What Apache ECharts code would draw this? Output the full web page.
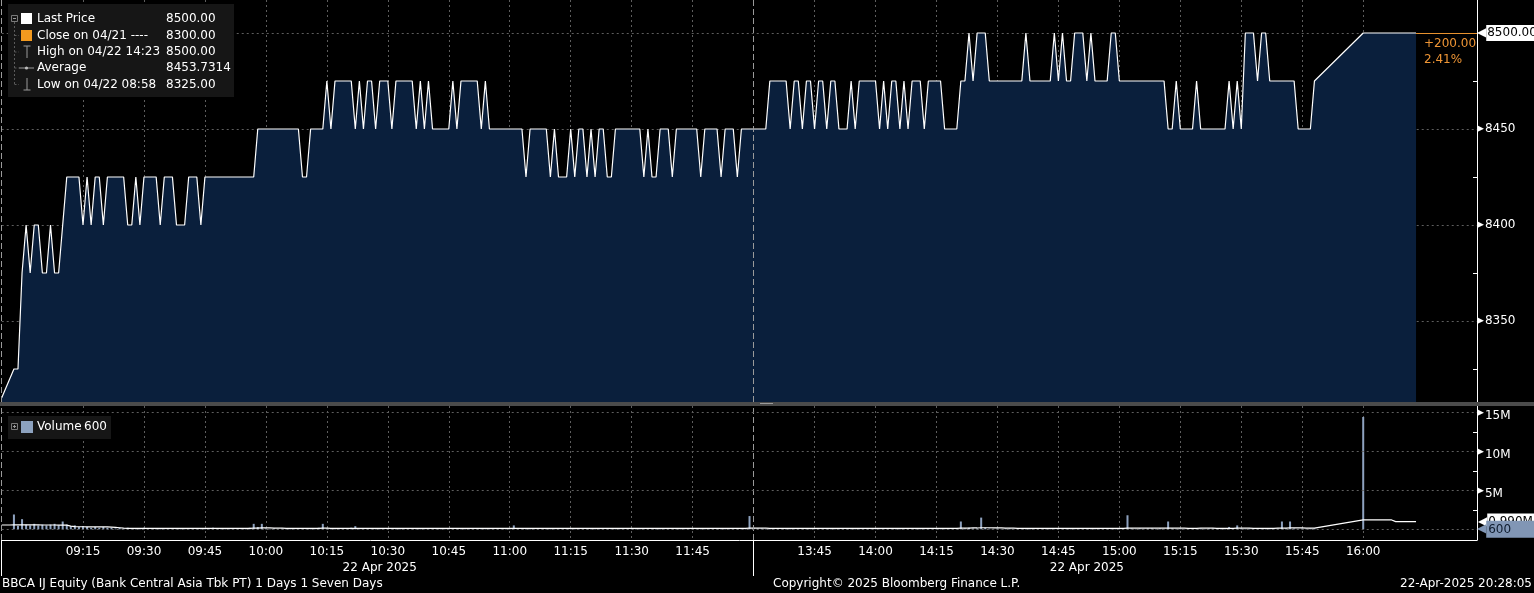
<!DOCTYPE html>
<html><head><meta charset="utf-8">
<script src="https://cdn.jsdelivr.net/npm/echarts@6/dist/echarts.min.js"></script>
<style>html,body{margin:0;padding:0;background:#000;overflow:hidden}#c{width:1534px;height:593px}</style>
</head><body><div id="c"></div>
<script>
// ---------- data ----------
const SESSIONS = [['08:55', 185], ['13:30', 179]];
const TICK_LABELS = ['09:15','09:30','09:45','10:00','10:15','10:30','10:45','11:00','11:15','11:30','11:45',
  '13:45','14:00','14:15','14:30','14:45','15:00','15:15','15:30','15:45','16:00'];
const DATE_LABEL_AT = ['10:28', '14:52'];
const DATE_TEXT = '22 Apr 2025';
const SESSION_BREAKS = ['08:55', '13:30'];
const LAST_PRICE = 8500;
const PREV_CLOSE = 8300;
const PRICE_LABELS = [8350, 8400, 8450, 8500];
const PRICE_MINOR = [8325, 8375, 8425, 8475];
const VOL_LABELS = [0, 5, 10, 15];
const VOL_MINOR = [2.5, 7.5, 12.5];
const LAST_VOLUME = 600;

const PRICE = [
  /*   0 */ 8310, null, null, 8325, 8325, 8375, 8400, 8375, 8400, 8400,
  /*  10 */ 8375, 8375, 8400, 8375, 8375, 8400, 8425, 8425, 8425, 8425,
  /*  20 */ 8400, 8425, 8400, 8425, 8425, 8400, 8425, 8425, 8425, 8425,
  /*  30 */ 8425, 8400, 8400, 8425, 8400, 8425, 8425, 8425, 8425, 8400,
  /*  40 */ 8425, 8425, 8425, 8400, 8400, 8400, 8425, 8425, 8425, 8400,
  /*  50 */ 8425, 8425, 8425, 8425, 8425, 8425, 8425, 8425, 8425, 8425,
  /*  60 */ 8425, 8425, 8425, 8450, 8450, 8450, 8450, 8450, 8450, 8450,
  /*  70 */ 8450, 8450, 8450, 8450, 8425, 8425, 8450, 8450, 8450, 8450,
  /*  80 */ 8475, 8450, 8475, 8475, 8475, 8475, 8475, 8450, 8475, 8450,
  /*  90 */ 8475, 8475, 8450, 8475, 8475, 8475, 8450, 8475, 8475, 8475,
  /* 100 */ 8475, 8475, 8450, 8475, 8450, 8475, 8450, 8450, 8450, 8450,
  /* 110 */ 8450, 8475, 8450, 8475, 8475, 8475, 8475, 8475, 8450, 8475,
  /* 120 */ 8450, 8450, 8450, 8450, 8450, 8450, 8450, 8450, 8450, 8425,
  /* 130 */ 8450, 8450, 8450, 8450, 8450, 8425, 8450, 8425, 8425, 8425,
  /* 140 */ 8450, 8425, 8450, 8450, 8425, 8450, 8425, 8450, 8450, 8425,
  /* 150 */ 8425, 8450, 8450, 8450, 8450, 8450, 8450, 8450, 8425, 8450,
  /* 160 */ 8425, 8425, 8450, 8450, 8450, 8425, 8450, 8450, 8450, 8450,
  /* 170 */ 8450, 8450, 8425, 8450, 8450, 8450, 8450, 8425, 8450, 8450,
  /* 180 */ 8450, 8425, 8450, 8450, 8450,
  /* 185 afternoon 13:30 */    8450, 8450, 8450, 8450, 8475,
  /* 190 */ 8475, 8475, 8475, 8475, 8450, 8475, 8475, 8450, 8475, 8475,
  /* 200 */ 8450, 8475, 8475, 8450, 8475, 8475, 8450, 8450, 8450, 8475,
  /* 210 */ 8450, 8475, 8475, 8475, 8475, 8475, 8450, 8475, 8450, 8475,
  /* 220 */ 8475, 8450, 8475, 8450, 8475, 8475, 8475, 8450, 8475, 8475,
  /* 230 */ 8475, 8475, 8450, 8450, 8450, 8450, 8475, 8475, 8500, 8475,
  /* 240 */ 8500, 8500, 8500, 8475, 8475, 8475, 8475, 8475, 8475, 8475,
  /* 250 */ 8475, 8475, 8500, 8475, 8475, 8475, 8475, 8475, 8475, 8500,
  /* 260 */ 8475, 8500, 8475, 8475, 8500, 8500, 8500, 8475, 8500, 8475,
  /* 270 */ 8475, 8475, 8475, 8500, 8500, 8475, 8475, 8475, 8475, 8475,
  /* 280 */ 8475, 8475, 8475, 8475, 8475, 8475, 8475, 8450, 8450, 8475,
  /* 290 */ 8450, 8450, 8450, 8450, 8475, 8450, 8450, 8450, 8450, 8450,
  /* 300 */ 8450, 8450, 8475, 8450, 8475, 8450, 8500, 8500, 8500, 8475,
  /* 310 */ 8500, 8500, 8475, 8475, 8475, 8475, 8475, 8475, 8475, 8450,
  /* 320 */ 8450, 8450, 8450, 8475, null, null, null, null, null, null,
  /* 330 */ null, null, null, null, null, 8500, 8500, 8500, 8500, 8500,
  /* 340 */ 8500, 8500, 8500, 8500, 8500, 8500, 8500, 8500, 8500
];

// volume in millions of shares
const VOLUME = [
  /*   0 */ 0, 0, 0, 1.9, 0.45, 1.3, 0.6, 0.5, 0.7, 0.5,
  /*  10 */ 0.6, 0.5, 0.6, 0.7, 0.5, 1.0, 0.6, 0.4, 0.5, 0.3,
  /*  20 */ 0.4, 0.3, 0.2, 0.3, 0.2, 0.3, 0.2, 0.2, 0.1, 0.2,
  /*  30 */ 0.1, 0.2, 0.1, 0.1, 0.1, 0.2, 0.1, 0.1, 0.1, 0.1,
  /*  40 */ 0.1, 0.05, 0.1, 0.1, 0.05, 0.1, 0.1, 0.05, 0.1, 0.1,
  /*  50 */ 0.05, 0.1, 0.2, 0.05, 0.1, 0.05, 0.1, 0.05, 0.1, 0.1,
  /*  60 */ 0.1, 0.2, 0.7, 0.3, 0.7, 0.1, 0.05, 0.1, 0.05, 0.1,
  /*  70 */ 0.05, 0.1, 0.05, 0.1, 0.1, 0.05, 0.1, 0.1, 0.2, 0.7,
  /*  80 */ 0.1, 0.05, 0.1, 0.05, 0.1, 0.1, 0.2, 0.4, 0.1, 0.05,
  /*  90 */ 0.1, 0.05, 0.1, 0.1, 0.05, 0.1, 0.05, 0.1, 0.1, 0.05,
  /* 100 */ 0.1, 0.05, 0.1, 0.1, 0.05, 0.1, 0.05, 0.1, 0.1, 0.05,
  /* 110 */ 0.1, 0.05, 0.1, 0.1, 0.05, 0.1, 0.05, 0.1, 0.1, 0.05,
  /* 120 */ 0.1, 0.05, 0.1, 0.1, 0.05, 0.1, 0.5, 0.1, 0.1, 0.05,
  /* 130 */ 0.1, 0.05, 0.1, 0.1, 0.05, 0.1, 0.05, 0.1, 0.1, 0.05,
  /* 140 */ 0.1, 0.05, 0.1, 0.1, 0.05, 0.1, 0.05, 0.1, 0.1, 0.05,
  /* 150 */ 0.1, 0.05, 0.1, 0.1, 0.05, 0.1, 0.05, 0.1, 0.1, 0.05,
  /* 160 */ 0.1, 0.05, 0.1, 0.1, 0.05, 0.1, 0.05, 0.1, 0.1, 0.05,
  /* 170 */ 0.1, 0.05, 0.1, 0.1, 0.05, 0.1, 0.05, 0.1, 0.1, 0.05,
  /* 180 */ 0.1, 0.05, 0.1, 0.1, 1.7,
  /* 185 */                       0.2, 0.1, 0.1, 0.05, 0.1,
  /* 190 */ 0.05, 0.1, 0.1, 0.05, 0.1, 0.05, 0.1, 0.1, 0.05, 0.1,
  /* 200 */ 0.05, 0.1, 0.1, 0.05, 0.1, 0.05, 0.1, 0.1, 0.05, 0.1,
  /* 210 */ 0.05, 0.1, 0.1, 0.05, 0.1, 0.05, 0.1, 0.1, 0.05, 0.1,
  /* 220 */ 0.05, 0.1, 0.1, 0.05, 0.1, 0.05, 0.1, 0.1, 0.05, 0.1,
  /* 230 */ 0.05, 0.1, 0.1, 0.05, 0.1, 0.05, 1.0, 0.1, 0.2, 0.1,
  /* 240 */ 0.1, 1.5, 0.2, 0.1, 0.05, 0.1, 0.05, 0.1, 0.1, 0.05,
  /* 250 */ 0.1, 0.05, 0.1, 0.1, 0.05, 0.1, 0.05, 0.1, 0.1, 0.05,
  /* 260 */ 0.1, 0.05, 0.1, 0.1, 0.05, 0.1, 0.05, 0.1, 0.1, 0.05,
  /* 270 */ 0.1, 0.05, 0.1, 0.1, 0.05, 0.1, 0.05, 1.8, 0.1, 0.05,
  /* 280 */ 0.1, 0.05, 0.1, 0.1, 0.05, 0.1, 0.05, 1.0, 0.1, 0.05,
  /* 290 */ 0.1, 0.05, 0.1, 0.1, 0.05, 0.1, 0.05, 0.1, 0.1, 0.05,
  /* 300 */ 0.1, 0.05, 0.3, 0.1, 0.5, 0.1, 0.05, 0.1, 0.1, 0.05,
  /* 310 */ 0.1, 0.05, 0.1, 0.1, 0.1, 1.0, 0.1, 1.0, 0.1, 0.05,
  /* 320 */ 0.1, 0.05, 0.1, 0.1, null, null, null, null, null, null,
  /* 330 */ null, null, null, null, null, 14.4, 0, 0, 0, 0,
  /* 340 */ 0, 0, 0, 0, 0, 0, 0, 0, 0
];

// white volume average line, millions
const VOL_AVG = [
  /*   0 */ 0.55, 0.55, 0.55, 0.56, 0.56, 0.57, 0.57, 0.56, 0.56, 0.56,
  /*  10 */ 0.55, 0.55, 0.55, 0.55, 0.54, 0.54, 0.53, 0.4, 0.35, 0.33,
  /*  20 */ 0.33, 0.32, 0.32, 0.31, 0.31, 0.3, 0.3, 0.28, 0.25, 0.2,
  /*  30 */ 0.15, 0.13, 0.12, 0.12, 0.12, 0.12, 0.12, 0.12, 0.12, 0.12,
  /*  40 */ 0.12, 0.12, 0.12, 0.12, 0.12, 0.12, 0.12, 0.12, 0.12, 0.12,
  /*  50 */ 0.12, 0.12, 0.12, 0.12, 0.12, 0.12, 0.12, 0.12, 0.12, 0.12,
  /*  60 */ 0.12, 0.13, 0.15, 0.16, 0.18, 0.18, 0.17, 0.16, 0.15, 0.14,
  /*  70 */ 0.13, 0.12, 0.12, 0.12, 0.12, 0.12, 0.12, 0.12, 0.12, 0.14,
  /*  80 */ 0.14, 0.13, 0.13, 0.12, 0.12, 0.12, 0.12, 0.13, 0.13, 0.12,
  /*  90 */ 0.12, 0.12, 0.12, 0.12, 0.12, 0.12, 0.12, 0.12, 0.12, 0.12,
  /* 100 */ 0.12, 0.12, 0.12, 0.12, 0.12, 0.12, 0.12, 0.12, 0.12, 0.12,
  /* 110 */ 0.12, 0.12, 0.12, 0.12, 0.12, 0.12, 0.12, 0.12, 0.12, 0.12,
  /* 120 */ 0.12, 0.12, 0.12, 0.12, 0.12, 0.12, 0.13, 0.13, 0.13, 0.13,
  /* 130 */ 0.12, 0.12, 0.12, 0.12, 0.12, 0.12, 0.12, 0.12, 0.12, 0.12,
  /* 140 */ 0.12, 0.12, 0.12, 0.12, 0.12, 0.12, 0.12, 0.12, 0.12, 0.12,
  /* 150 */ 0.12, 0.12, 0.12, 0.12, 0.12, 0.12, 0.12, 0.12, 0.12, 0.12,
  /* 160 */ 0.12, 0.12, 0.12, 0.12, 0.12, 0.12, 0.12, 0.12, 0.12, 0.12,
  /* 170 */ 0.12, 0.12, 0.12, 0.12, 0.12, 0.12, 0.12, 0.12, 0.12, 0.12,
  /* 180 */ 0.12, 0.12, 0.12, 0.12, 0.15,
  /* 185 */                        0.15, 0.15, 0.14, 0.14, 0.13,
  /* 190 */ 0.13, 0.12, 0.12, 0.12, 0.12, 0.12, 0.12, 0.12, 0.12, 0.12,
  /* 200 */ 0.12, 0.12, 0.12, 0.12, 0.12, 0.12, 0.12, 0.12, 0.12, 0.12,
  /* 210 */ 0.12, 0.12, 0.12, 0.12, 0.12, 0.12, 0.12, 0.12, 0.12, 0.12,
  /* 220 */ 0.12, 0.12, 0.12, 0.12, 0.12, 0.12, 0.12, 0.12, 0.12, 0.12,
  /* 230 */ 0.12, 0.12, 0.12, 0.12, 0.12, 0.12, 0.15, 0.15, 0.16, 0.17,
  /* 240 */ 0.17, 0.2, 0.2, 0.2, 0.19, 0.18, 0.17, 0.16, 0.15, 0.14,
  /* 250 */ 0.13, 0.12, 0.12, 0.12, 0.12, 0.12, 0.12, 0.12, 0.12, 0.12,
  /* 260 */ 0.12, 0.12, 0.12, 0.12, 0.12, 0.12, 0.12, 0.12, 0.12, 0.12,
  /* 270 */ 0.12, 0.12, 0.12, 0.12, 0.12, 0.12, 0.12, 0.15, 0.15, 0.15,
  /* 280 */ 0.15, 0.15, 0.15, 0.15, 0.14, 0.14, 0.14, 0.16, 0.16, 0.16,
  /* 290 */ 0.15, 0.14, 0.13, 0.13, 0.13, 0.14, 0.14, 0.14, 0.14, 0.13,
  /* 300 */ 0.13, 0.13, 0.13, 0.13, 0.14, 0.14, 0.14, 0.14, 0.13, 0.13,
  /* 310 */ 0.13, 0.13, 0.13, 0.13, 0.14, 0.15, 0.16, 0.18, 0.18, 0.17,
  /* 320 */ 0.17, 0.16, 0.16, 0.16, null, null, null, null, null, null,
  /* 330 */ null, null, null, null, null, 1.2, 1.2, 1.2, 1.2, 1.2,
  /* 340 */ 1.2, 1.2, 1.2, 0.99, 0.99, 0.99, 0.99, 0.99, 0.99
];

// ---------- categories ----------
function pad(n){ return (n < 10 ? '0' : '') + n; }
const CATS = [];
SESSIONS.forEach(([start, count]) => {
  const [h, m] = start.split(':').map(Number);
  for (let i = 0; i < count; i++) {
    const t = h * 60 + m + i;
    CATS.push(pad(Math.floor(t / 60)) + ':' + pad(t % 60));
  }
});
const TICK_SET = new Set(TICK_LABELS);
const DATE_SET = new Set(DATE_LABEL_AT);
const BREAK_SET = new Set(SESSION_BREAKS);
const lastIdx = PRICE.length - 1;
const lastAvg = VOL_AVG[VOL_AVG.length - 1];

const FONT = 'DejaVu Sans';
const GRID_LEFT = 1.73, GRID_RIGHT = 57;
const SPLIT = { show: true, interval: (i, v) => TICK_SET.has(v), lineStyle: { color: '#5e5e5e', type: [2, 3], width: 1 } };

const rich = {
  a: { color: '#fff', fontSize: 9, fontFamily: FONT, padding: [0, 1, 0, 0] },
  t: { color: '#fff', fontSize: 12, fontFamily: FONT },
  tv: { color: '#fff', fontSize: 12, fontFamily: FONT, padding: [8, 0, 0, 0] },
  p: { color: '#fff', fontSize: 12, fontFamily: FONT },
  b: { color: '#000', backgroundColor: '#fff', fontSize: 12, fontFamily: FONT, padding: [2, 4, 2, 1] },
  pv: { color: '#8196b5', fontSize: 12, fontFamily: FONT },
  bv: { color: '#0f1c2e', backgroundColor: '#8196b5', fontSize: 12, fontFamily: FONT, padding: [3, 31, 2, 2] }
};

const chg = LAST_PRICE - PREV_CLOSE;
const pct = chg / PREV_CLOSE * 100;

function T(x, y, s, extra) {
  return { type: 'text', x: x, y: y, z: 100, silent: true,
    style: Object.assign({ text: s, fill: '#fff', font: '12px "' + FONT + '"', verticalAlign: 'middle', align: 'left' }, extra || {}) };
}
function L(x1, y1, x2, y2, stroke, dash) {
  return { type: 'line', z: 100, silent: true, shape: { x1, y1, x2, y2 },
    style: { stroke: stroke || '#8a8a8a', lineWidth: 1, lineDash: dash || null } };
}
function R(x, y, w, h, fill, stroke) {
  return { type: 'rect', z: 99, silent: true, shape: { x, y, width: w, height: h },
    style: { fill: fill || 'none', stroke: stroke || null, lineWidth: 1 } };
}

const rows = [19, 35.5, 52, 68, 84.5];
const graphic = [
  // panel separator
  R(0, 402, 1534, 4, '#4b4b4b'),
  R(760, 403, 13, 1, '#9a9a9a'),
  // legend box
  R(8, 4, 226, 93, '#161616'),
  R(11.5, 15.5, 6, 6, null, '#7a7a7a'),
  L(13, 18.5, 16, 18.5, '#9a9a9a'),
  L(14.5, 22, 14.5, 85, '#5a5a5a', [2, 2]),
  L(14.5, rows[1], 19, rows[1], '#5a5a5a', [2, 2]),
  L(14.5, rows[2], 19, rows[2], '#5a5a5a', [2, 2]),
  L(14.5, rows[3], 19, rows[3], '#5a5a5a', [2, 2]),
  L(14.5, rows[4], 19, rows[4], '#5a5a5a', [2, 2]),
  R(21, 13, 11, 11, '#ffffff'),
  R(21, 30, 11, 11, '#f39a1f'),
  L(27, 46, 27, 58, '#9a9a9a'), L(23.5, 46, 30.5, 46, '#9a9a9a'),
  L(19, 68, 34, 68, '#9a9a9a'),
  { type: 'circle', z: 100, silent: true, shape: { cx: 26.5, cy: 68, r: 1.6 }, style: { fill: '#bdbdbd' } },
  L(27, 78, 27, 90, '#9a9a9a'), L(23.5, 90, 30.5, 90, '#9a9a9a'),
  T(37, rows[0], 'Last Price'), T(166, rows[0], LAST_PRICE.toFixed(2)),
  T(37, rows[1], 'Close on 04/21 ----'), T(166, rows[1], PREV_CLOSE.toFixed(2)),
  T(37, rows[2], 'High on 04/22 14:23'), T(166, rows[2], '8500.00'),
  T(37, rows[3], 'Average'), T(166, rows[3], '8453.7314'),
  T(37, rows[4], 'Low on 04/22 08:58'), T(166, rows[4], '8325.00'),
  // volume legend
  R(8, 416, 103, 23, '#161616'),
  R(11.5, 423.5, 6, 6, null, '#7a7a7a'),
  L(13, 426.5, 16, 426.5, '#9a9a9a'), L(14.5, 425, 14.5, 428, '#9a9a9a'),
  R(21, 421, 12, 12, '#8da2bf'),
  T(37, 427, 'Volume'), T(84, 427, String(LAST_VOLUME)),
  // footer
  T(2, 584, 'BBCA IJ Equity (Bank Central Asia Tbk PT) 1 Days 1 Seven Days'),
  T(773, 584, 'Copyright\u00A9 2025 Bloomberg Finance L.P.'),
  T(1532, 584, '22-Apr-2025 20:28:05', { align: 'right' })
];

const option = {
  backgroundColor: '#000',
  animation: false,
  textStyle: { fontFamily: FONT },
  grid: [
    { left: GRID_LEFT, right: GRID_RIGHT, top: 0, height: 402, outerBoundsMode: 'none' },
    { left: GRID_LEFT, right: GRID_RIGHT, top: 406, height: 134, outerBoundsMode: 'none' }
  ],
  xAxis: [
    { gridIndex: 0, type: 'category', data: CATS, boundaryGap: false,
      axisLine: { show: false }, axisTick: { show: false }, axisLabel: { show: false }, splitLine: SPLIT },
    { gridIndex: 1, type: 'category', data: CATS, boundaryGap: false,
      axisLine: { show: true, onZero: false, lineStyle: { color: '#ffffff', width: 1 } },
      axisTick: { show: true, interval: (i, v) => BREAK_SET.has(v), length: 36, lineStyle: { color: '#ffffff' } },
      axisLabel: { show: true, interval: (i, v) => TICK_SET.has(v), color: '#ffffff', fontSize: 12, fontFamily: FONT, margin: 6 },
      splitLine: SPLIT },
    { gridIndex: 1, type: 'category', data: CATS, boundaryGap: false, position: 'bottom', offset: 20,
      axisLine: { show: false }, axisTick: { show: false }, splitLine: { show: false },
      axisLabel: { show: true, interval: (i, v) => DATE_SET.has(v), formatter: () => DATE_TEXT,
        color: '#ffffff', fontSize: 12, fontFamily: FONT, margin: 2 } }
  ],
  yAxis: [
    { gridIndex: 0, type: 'value', position: 'right', min: 8307.8, max: 8517.2,
      axisLine: { show: true, lineStyle: { color: '#ffffff' } },
      axisTick: { show: false, customValues: PRICE_LABELS },
      axisLabel: { show: true, customValues: PRICE_LABELS, margin: 0,
        formatter: v => v === LAST_PRICE ? '{p|\u25C0}{b|' + v.toFixed(2) + '}' : '{a|\u25B6}{t|' + v + '}', rich: rich },
      splitLine: { show: true, lineStyle: { color: '#5e5e5e', type: [2, 3] } } },
    { gridIndex: 0, type: 'value', position: 'right', min: 8307.8, max: 8517.2,
      axisLine: { show: false }, axisLabel: { show: false }, splitLine: { show: false },
      axisTick: { show: true, inside: true, length: 4, customValues: PRICE_MINOR, lineStyle: { color: '#ffffff' } } },
    { gridIndex: 1, type: 'value', position: 'right', min: -1.372, max: 15.81, z: 10,
      axisLine: { show: true, lineStyle: { color: '#ffffff' } },
      axisTick: { show: false, customValues: VOL_LABELS },
      axisLabel: { show: true, customValues: VOL_LABELS, margin: 0,
        formatter: v => v === 0 ? '{pv|\u25C0}{bv|' + LAST_VOLUME + '}' : '{a|\u25B6}{tv|' + v + 'M}', rich: rich },
      splitLine: { show: true, lineStyle: { color: '#5e5e5e', type: [2, 3] } } },
    { gridIndex: 1, type: 'value', position: 'right', min: -1.372, max: 15.81,
      axisLine: { show: false }, axisLabel: { show: false }, splitLine: { show: false },
      axisTick: { show: true, inside: true, length: 4, customValues: VOL_MINOR, lineStyle: { color: '#ffffff' } } }
  ],
  series: [
    { name: 'Last Price', type: 'line', xAxisIndex: 0, yAxisIndex: 0, data: PRICE,
      symbol: 'none', connectNulls: true, clip: true,
      lineStyle: { color: '#ffffff', width: 1.2 },
      areaStyle: { color: '#0a1f3c', opacity: 1 },
      z: 3,
      markLine: { silent: true, symbol: 'none', animation: false,
        data: [
          { xAxis: SESSION_BREAKS[0], lineStyle: { color: '#9a9a9a', type: [6, 3], width: 1 }, label: { show: false } },
          { xAxis: SESSION_BREAKS[1], lineStyle: { color: '#9a9a9a', type: [6, 3], width: 1 }, label: { show: false } },
          [ { coord: [CATS[lastIdx], LAST_PRICE] }, { coord: [CATS[CATS.length - 1], LAST_PRICE],
              lineStyle: { color: '#e8922e', type: 'solid', width: 1 },
              label: { show: true, position: 'insideStartBottom', distance: [8, 3],
                formatter: (chg > 0 ? '+' : '') + chg.toFixed(2) + '\n' + pct.toFixed(2) + '%',
                color: '#ee9535', fontSize: 12, fontFamily: FONT, lineHeight: 16, align: 'left' } } ]
        ] } },
    { name: 'Volume', type: 'bar', xAxisIndex: 1, yAxisIndex: 2, data: VOLUME, barWidth: 2,
      itemStyle: { color: '#8ea2bf' }, z: 3,
      markLine: { silent: true, symbol: 'none', animation: false, label: { show: false },
        lineStyle: { color: '#9a9a9a', type: [6, 3], width: 1 },
        data: [ { xAxis: SESSION_BREAKS[0] }, { xAxis: SESSION_BREAKS[1] } ] } },
    { name: 'Volume Avg', type: 'line', xAxisIndex: 1, yAxisIndex: 2, data: VOL_AVG,
      symbol: 'none', connectNulls: true, lineStyle: { color: '#ffffff', width: 1.2 }, z: 4,
      markLine: { silent: true, symbol: 'none', animation: false,
        data: [ [ { coord: [CATS[lastIdx], lastAvg] }, { coord: [CATS[CATS.length - 1], lastAvg] } ] ],
        lineStyle: { color: 'rgba(0,0,0,0)', width: 1, type: 'solid' },
        label: { show: true, position: 'end', distance: 1, color: '#000',
          formatter: '{p|\u25C0}{b|' + lastAvg.toFixed(3) + 'M}', rich: rich } } }
  ],
  graphic: { elements: graphic }
};

const chart = echarts.init(document.getElementById('c'), null, { renderer: 'canvas' });
chart.setOption(option);
</script>
</body></html>
